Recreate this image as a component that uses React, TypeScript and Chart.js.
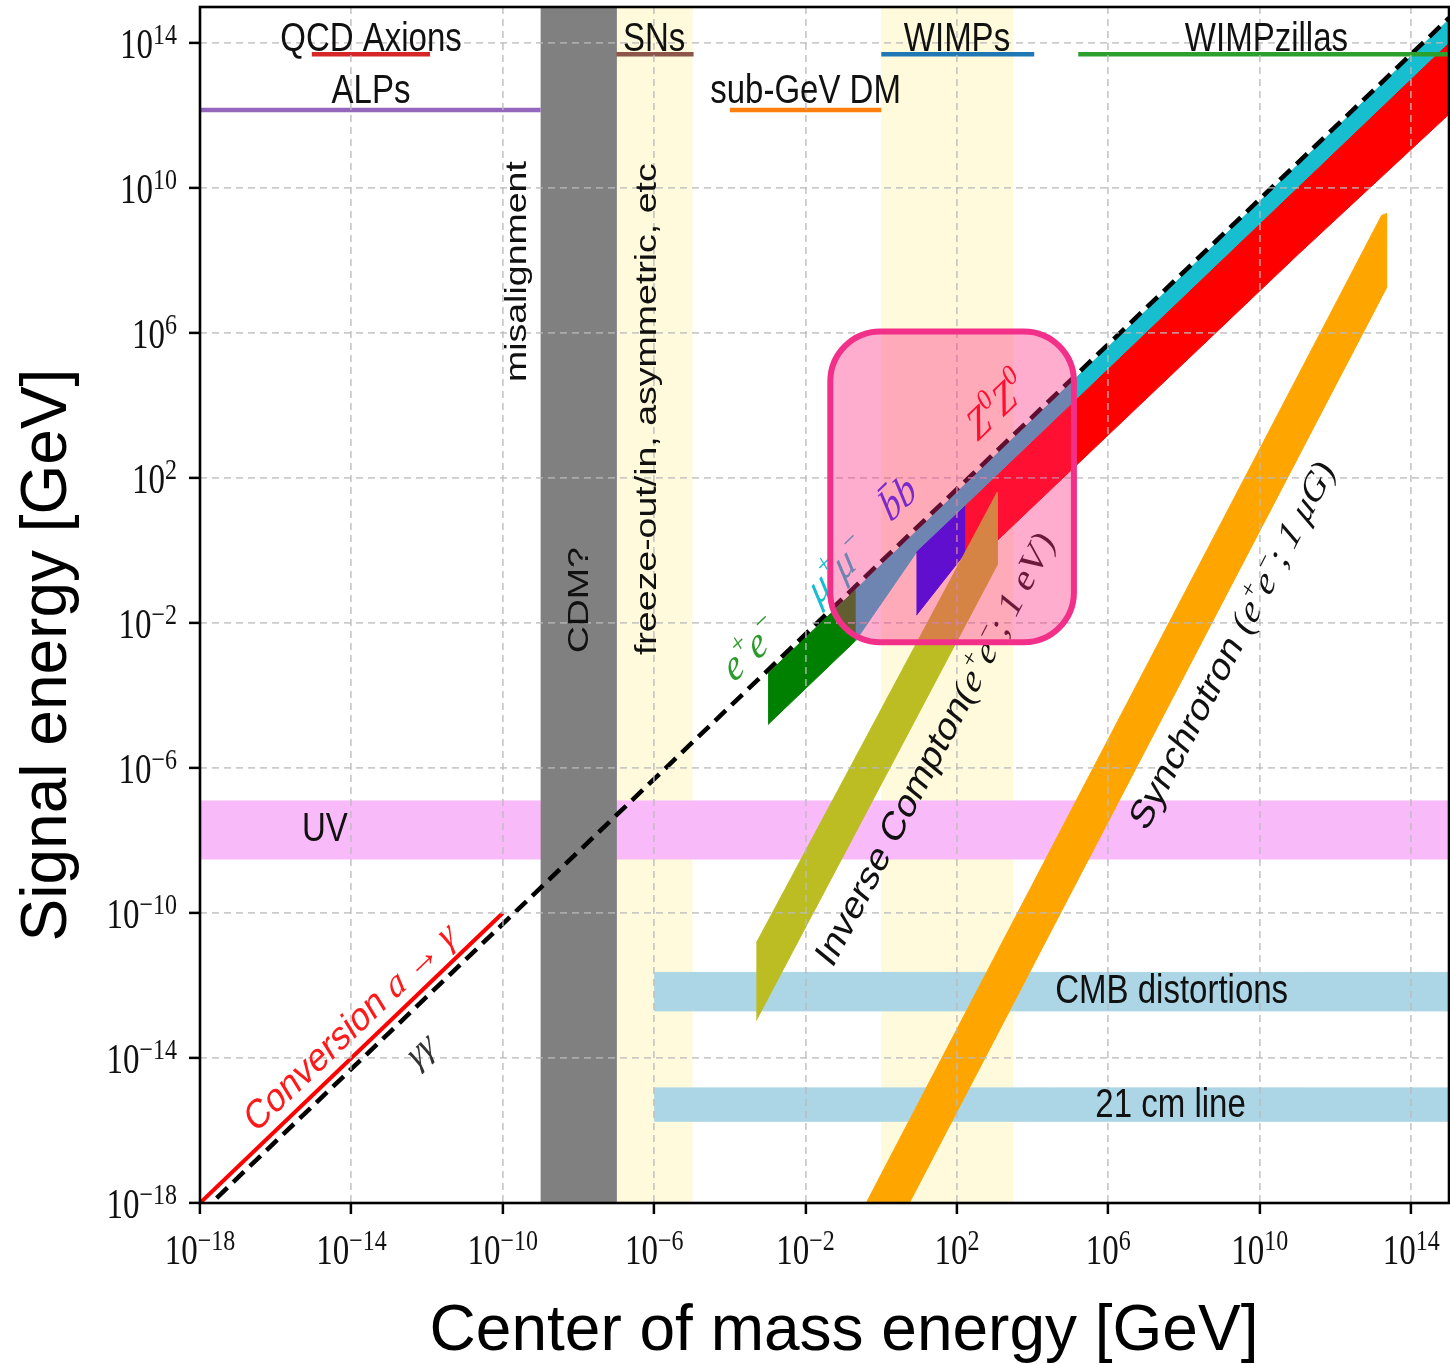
import React, { useEffect, useRef } from 'react';
import { Chart, registerables } from 'chart.js';

Chart.register(...registerables);

// ---------------- axes ----------------
const xRange = [1e-18, 1e15];
const yRange = [1e-18, 1e15];
const xTickValues = [1e-18, 1e-14, 1e-10, 1e-6, 1e-2, 1e2, 1e6, 1e10, 1e14];
const xTickExponents = ['−18', '−14', '−10', '−6', '−2', '2', '6', '10', '14'];
const yTickValues = [1e-18, 1e-14, 1e-10, 1e-6, 1e-2, 1e2, 1e6, 1e10, 1e14];
const yTickExponents = ['−18', '−14', '−10', '−6', '−2', '2', '6', '10', '14'];

// ---------------- vertical bands (x extent, full height) ----------------
const cdmBandX = [1e-9, 1e-7];
const freezeOutBandX = [1e-7, 1e-5];
const wimpBandX = [1, 3e3];

// ---------------- horizontal bands ----------------
const uvBandX = [1e-18, 1e15];
const uvBandY = [3.1e-9, 1.24e-7];
const cmbBandX = [1e-6, 1e15];
const cmbBandY = [2e-13, 2.3e-12];
const line21cmX = [1e-6, 1e15];
const line21cmY = [1.8e-16, 1.5e-15];

// ---------------- diagonal lines ----------------
const conversionX = [1e-18, 1e-10];
const conversionY = [1e-18, 1e-10];
const gammaGammaX = [1e-18, 1e15];
const gammaGammaY = [5e-19, 5e14];

// ---------------- channel polygons ----------------
const eePolyX = [1.02e-3, 0.211, 0.211, 1.02e-3];
const eePolyY = [4.1e-4, 8.4e-2, 3.3e-3, 1.6e-5];
const mumuPolyX = [0.211, 1e15, 1e15, 8.5, 0.211];
const mumuPolyY = [8.4e-2, 4.5e14, 1e14, 0.9, 3.3e-3];
const bbPolyX = [8.5, 165, 165, 8.5];
const bbPolyY = [0.9, 17, 0.85, 0.0166];
const zzPolyX = [165, 1e15, 1e15, 1.07e11, 1175, 165];
const zzPolyY = [17, 1e14, 1.1e12, 1.55e8, 1.93, 0.6];
const inverseComptonX = [5e-4, 1150, 1150, 5e-4];
const inverseComptonY = [1.5e-11, 40, 0.4, 1.1e-13];
const synchrotronX = [0.4, 1.66e13, 2.24e13, 2.24e13, 5.5];
const synchrotronY = [1e-18, 1.78e9, 2e9, 1.8e7, 1e-18];

// ---------------- model ranges (top) ----------------
const topRowY = 5e13;
const lowRowY = 1.45e12;
const qcdAxionX = [9e-16, 1.2e-12];
const alpsX = [1e-18, 1e-9];
const snX = [1e-7, 1.1e-5];
const wimpX = [1, 1.1e4];
const subGevX = [1e-4, 1];
const wimpzillaX = [1.6e5, 1e15];

// ---------------- highlight box ----------------
const highlightX = [0.045, 1.23e5];
const highlightY = [2.95e-3, 1.12e6];

const STRETCH = 1.25;
const SANS = '"Liberation Sans", Arial, Helvetica, sans-serif';
const SERIF = '"Liberation Serif", "Times New Roman", serif';
const sans = (s: number) => `${s}px ${SANS}`;
const ser = (s: number) => `${s}px ${SERIF}`;
const ita = (s: number) => `italic ${s}px ${SERIF}`;

type Seg = { t: string; f: string; dy?: number; c?: string };

function drawRich(
  ctx: CanvasRenderingContext2D,
  segs: Seg[],
  x: number,
  y: number,
  angleDeg: number,
  color: string,
  align: 'left' | 'center' | 'right' = 'center',
  vOff = 0,
  stretch = STRETCH
) {
  ctx.save();
  ctx.translate(x, y);
  ctx.scale(1, stretch);
  const phi = (angleDeg * Math.PI) / 180;
  const theta = Math.atan2(Math.sin(phi) / stretch, Math.cos(phi));
  ctx.rotate(theta);
  ctx.textAlign = 'left';
  ctx.textBaseline = 'alphabetic';
  let total = 0;
  const widths = segs.map((s) => {
    ctx.font = s.f;
    const w = ctx.measureText(s.t).width;
    total += w;
    return w;
  });
  let cx = align === 'center' ? -total / 2 : align === 'right' ? -total : 0;
  segs.forEach((s, i) => {
    ctx.font = s.f;
    ctx.fillStyle = s.c || color;
    ctx.fillText(s.t, cx, vOff - (s.dy || 0));
    cx += widths[i];
  });
  ctx.restore();
}

const pts = (xs: number[], ys: number[]) => xs.map((x, i) => ({ x, y: ys[i] }));

function poly(xs: number[], ys: number[], color: string) {
  return {
    data: pts(xs, ys),
    showLine: true,
    fill: 'shape',
    backgroundColor: color,
    borderColor: color,
    borderWidth: 1,
    pointRadius: 0,
    pointHoverRadius: 0,
    tension: 0,
  };
}
function rect(xr: number[], yr: number[], color: string) {
  return poly([xr[0], xr[1], xr[1], xr[0]], [yr[0], yr[0], yr[1], yr[1]], color);
}
function lineDs(xs: number[], ys: number[], color: string, width: number, dash: number[] = []) {
  return {
    data: pts(xs, ys),
    showLine: true,
    fill: false,
    borderColor: color,
    backgroundColor: color,
    borderWidth: width,
    borderDash: dash,
    borderCapStyle: 'butt',
    pointRadius: 0,
    pointHoverRadius: 0,
    tension: 0,
  };
}

const overlayPlugin = {
  id: 'overlay',
  afterDraw(chart: any) {
    const { ctx, chartArea: a } = chart;
    const xs = chart.scales.x;
    const ys = chart.scales.y;
    const X = (v: number) => xs.getPixelForValue(v);
    const Y = (v: number) => ys.getPixelForValue(v);
    const decX = X(10) - X(1);
    const decY = Y(1) - Y(10);
    const diag = (-Math.atan2(decY, decX) * 180) / Math.PI;
    const steep = (-Math.atan2(2 * decY, decX) * 180) / Math.PI;

    ctx.save();
    ctx.beginPath();
    ctx.rect(a.left, a.top, a.right - a.left, a.bottom - a.top);
    ctx.clip();

    // horizontal labels (baseline anchored)
    const hLabels: [string, number, number][] = [
      ['QCD Axions', 3.3e-14, 6.3e13],
      ['ALPs', 3.3e-14, 2.3e12],
      ['SNs', 1e-6, 6.3e13],
      ['WIMPs', 1e2, 6.3e13],
      ['WIMPzillas', 1.5e10, 6.3e13],
      ['sub-GeV DM', 1e-2, 2.3e12],
      ['UV', 2e-15, 1e-8],
      ['CMB distortions', 4.7e7, 3.3e-13],
      ['21 cm line', 4.4e7, 2.3e-16],
    ];
    hLabels.forEach(([t, vx, vy]) => drawRich(ctx, [{ t, f: sans(33) }], X(vx), Y(vy), 0, '#111'));

    // vertical labels
    const vLabels: [string, number, number][] = [
      ['misalignment', 2.2e-10, 5e7],
      ['CDM?', 9.5e-9, 0.043],
      ['freeze-out/in, asymmetric, etc', 6e-7, 8e3],
    ];
    vLabels.forEach(([t, vx, vy]) => drawRich(ctx, [{ t, f: sans(30) }], X(vx), Y(vy), -90, '#111', 'center', 10.5));

    const sup = (t: string, s: number): Seg => ({ t, f: ser(Math.round(s * 0.68)), dy: s * 0.42 });

    drawRich(ctx, [
      { t: 'Conversion ', f: sans(33) },
      { t: 'a', f: ita(33) },
      { t: ' → ', f: ser(33) },
      { t: 'γ', f: ita(33) },
    ], X(9e-15), Y(7.6e-14), diag, '#ff1a1a', 'center', 11);

    drawRich(ctx, [{ t: 'γγ', f: ita(32) }], X(7.2e-13), Y(1.5e-14), diag, '#333', 'center', 8);

    drawRich(ctx, [
      { t: 'e', f: ita(36) }, sup('+', 36), { t: 'e', f: ita(36) }, sup('−', 36),
    ], X(3.8e-4), Y(1.6e-3), diag, '#2a9a2a', 'center', 9);

    drawRich(ctx, [
      { t: 'μ', f: ita(36) }, sup('+', 36), { t: 'μ', f: ita(36) }, sup('−', 36),
    ], X(0.071), Y(0.25), diag, '#17becf', 'center', 9);

    drawRich(ctx, [{ t: 'b\u0304b', f: ita(36) }], X(3), Y(24.5), diag, '#2a2aff', 'center', 9);

    drawRich(ctx, [
      { t: 'Z', f: ita(36) }, sup('0', 36), { t: 'Z', f: ita(36) }, sup('0', 36),
    ], X(1050), Y(1e4), diag, '#ff0000', 'center', 12);

    drawRich(ctx, [
      { t: 'Inverse Compton', f: sans(33) },
      { t: '(', f: ser(33) },
      { t: 'e', f: ita(33) }, sup('+', 33),
      { t: 'e', f: ita(33) }, sup('−', 33),
      { t: '; 1 eV)', f: ser(33) },
    ], X(25.7), Y(3.5e-6), steep, '#111', 'center', 11);

    drawRich(ctx, [
      { t: 'Synchrotron ', f: sans(33) },
      { t: '(', f: ser(33) },
      { t: 'e', f: ita(33) }, sup('+', 33),
      { t: 'e', f: ita(33) }, sup('−', 33),
      { t: '; ', f: ser(33) },
      { t: '1 μG', f: ita(33) },
      { t: ')', f: ser(33) },
    ], X(1.8e9), Y(2.6e-3), steep, '#111', 'center', 11);

    // highlight box
    const bx1 = X(highlightX[0]);
    const bx2 = X(highlightX[1]);
    const by1 = Y(highlightY[1]);
    const by2 = Y(highlightY[0]);
    ctx.beginPath();
    ctx.roundRect(bx1, by1, bx2 - bx1, by2 - by1, 50);
    ctx.fillStyle = 'rgba(255, 40, 130, 0.38)';
    ctx.fill();
    ctx.lineWidth = 6;
    ctx.strokeStyle = '#f2308a';
    ctx.stroke();
    ctx.restore();

    // frame
    ctx.save();
    ctx.strokeStyle = '#000';
    ctx.lineWidth = 2.6;
    ctx.strokeRect(a.left, a.top, a.right - a.left, a.bottom - a.top);
    ctx.restore();

    // tick labels
    xTickValues.forEach((v, i) => {
      drawRich(ctx, [
        { t: '10', f: ser(33) },
        { t: xTickExponents[i], f: ser(24), dy: 11.2 },
      ], X(v), a.bottom + 61, 0, '#111', 'center', 0);
    });
    yTickValues.forEach((v, i) => {
      drawRich(ctx, [
        { t: '10', f: ser(33) },
        { t: yTickExponents[i], f: ser(24), dy: 11.6 },
      ], a.left - 23, Y(v) + 15, 0, '#111', 'right', 0);
    });

    // axis titles
    drawRich(ctx, [{ t: 'Signal energy [GeV]', f: sans(64) }], 66, 655, -90, '#000', 'center', 0, 1);
    drawRich(ctx, [{ t: 'Center of mass energy [GeV]', f: sans(64) }], 844, 1350, 0, '#000', 'center', 0, 1);
  },
};

export default function App() {
  const ref = useRef<HTMLCanvasElement>(null);
  useEffect(() => {
    const canvas = ref.current;
    if (!canvas) return;
    const layered = [
      rect(freezeOutBandX, yRange, '#fffadb'),
      rect(wimpBandX, yRange, '#fffadb'),
      rect(uvBandX, uvBandY, '#f9baf9'),
      rect(cdmBandX, yRange, '#808080'),
      rect(cmbBandX, cmbBandY, '#acd6e6'),
      rect(line21cmX, line21cmY, '#acd6e6'),
      poly(eePolyX, eePolyY, '#008000'),
      poly(mumuPolyX, mumuPolyY, '#17becf'),
      poly(bbPolyX, bbPolyY, '#0000ff'),
      poly(zzPolyX, zzPolyY, '#ff0000'),
      poly(inverseComptonX, inverseComptonY, '#bcbd22'),
      poly(synchrotronX, synchrotronY, '#ffa500'),
      lineDs(conversionX, conversionY, '#ff0000', 4),
      lineDs(gammaGammaX, gammaGammaY, '#000000', 4.5, [15, 8]),
      lineDs(qcdAxionX, [topRowY, topRowY], '#d62728', 4.5),
      lineDs(alpsX, [lowRowY, lowRowY], '#9467bd', 4.5),
      lineDs(snX, [topRowY, topRowY], '#8c564b', 4.5),
      lineDs(wimpX, [topRowY, topRowY], '#1f77b4', 4.5),
      lineDs(subGevX, [lowRowY, lowRowY], '#ff7f0e', 4.5),
      lineDs(wimpzillaX, [topRowY, topRowY], '#2ca02c', 4.5),
    ];
    const datasets = layered.map((d, i) => ({ ...d, order: layered.length - i }));

    const gridCommon = {
      display: true,
      color: 'rgba(185,185,185,0.75)',
      lineWidth: 1.8,
      drawTicks: true,
      tickLength: 11,
      tickColor: '#000',
      tickWidth: 2.5,
      z: 1,
    };

    const chart = new Chart(canvas, {
      type: 'scatter',
      data: { datasets: datasets as any },
      options: {
        responsive: false,
        animation: false,
        devicePixelRatio: 1,
        events: [],
        layout: { padding: { left: 0, top: 7, right: 1, bottom: 0 } },
        plugins: { legend: { display: false }, tooltip: { enabled: false } },
        scales: {
          x: {
            type: 'logarithmic',
            min: xRange[0],
            max: xRange[1],
            afterBuildTicks: (s: any) => { s.ticks = xTickValues.map((value) => ({ value })); },
            afterFit: (s: any) => { s.height = 161; },
            ticks: { display: false },
            grid: gridCommon,
            border: { display: false, dash: [7, 5] },
          },
          y: {
            type: 'logarithmic',
            min: yRange[0],
            max: yRange[1],
            afterBuildTicks: (s: any) => { s.ticks = yTickValues.map((value) => ({ value })); },
            afterFit: (s: any) => { s.width = 200; },
            ticks: { display: false },
            grid: gridCommon,
            border: { display: false, dash: [7, 5] },
          },
        },
      } as any,
      plugins: [overlayPlugin],
    });
    return () => chart.destroy();
  }, []);

  return (
    <div style={{ position: 'absolute', left: 0, top: 0, width: 1450, height: 1364, background: '#fff' }}>
      <canvas ref={ref} width={1450} height={1364} style={{ width: 1450, height: 1364, display: 'block' }} />
    </div>
  );
}
